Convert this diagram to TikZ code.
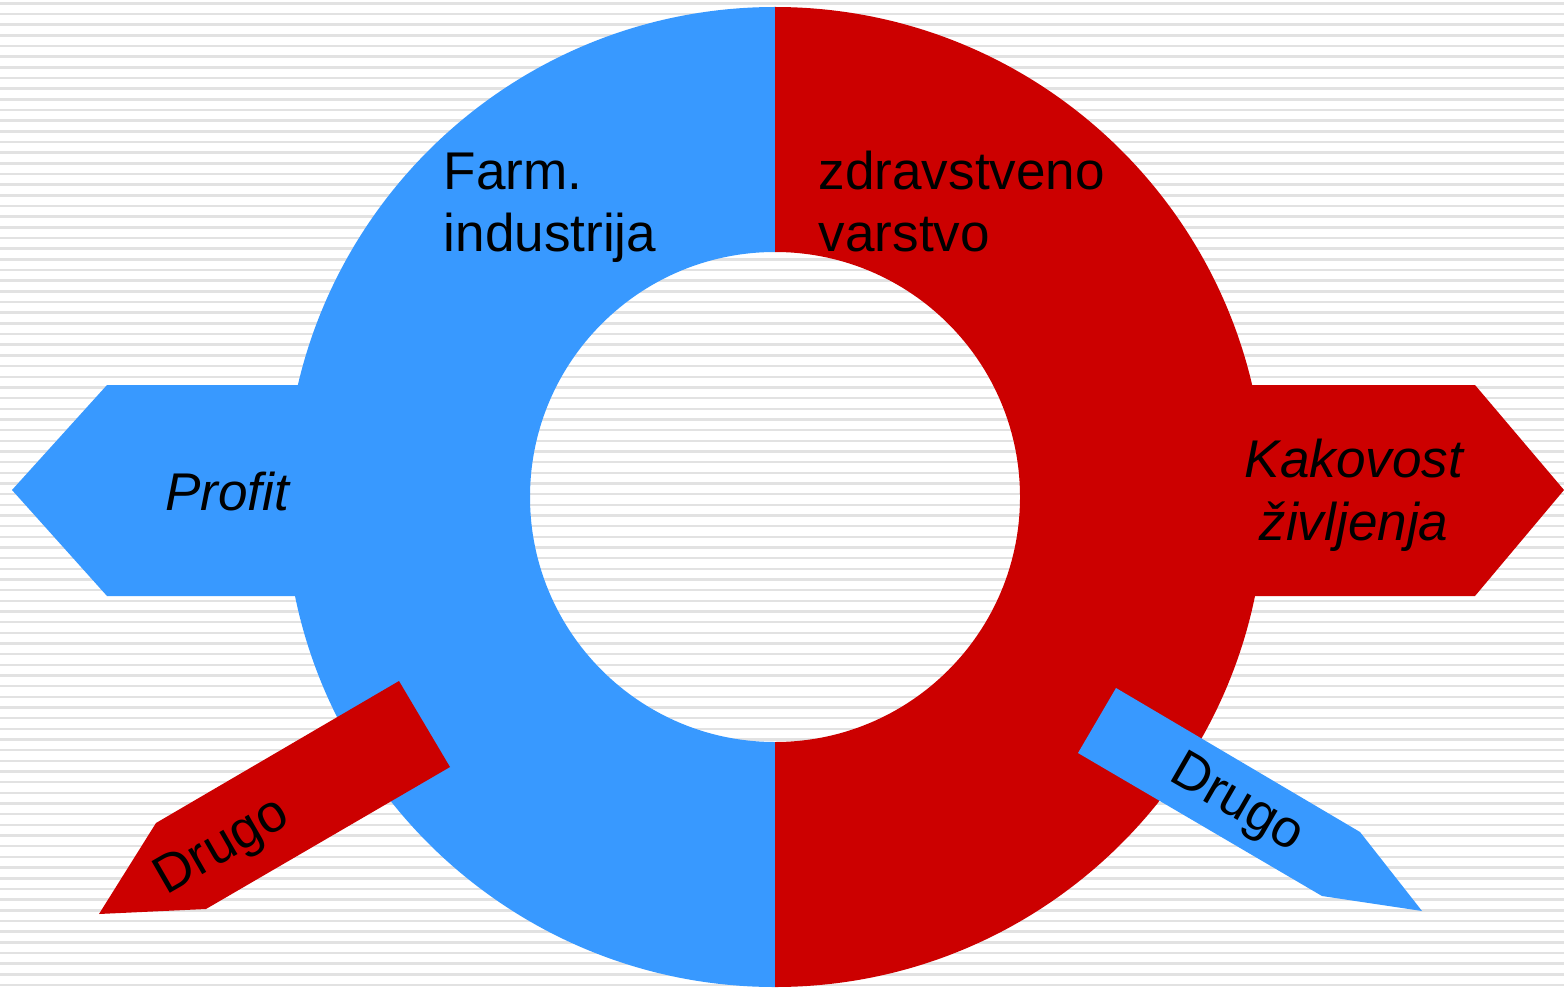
\documentclass[tikz,border=0pt]{standalone}
\usepackage{fontspec}
\setmainfont{Liberation Sans}
\usepackage{xcolor}
\definecolor{fb}{HTML}{3899FF}
\definecolor{fr}{HTML}{CC0000}
\definecolor{fs}{HTML}{E2E2E2}

\begin{document}
\begin{tikzpicture}[x=0.01cm,y=0.01cm,
  lbl/.style={font=\fontsize{15.1}{17.9}\selectfont,inner sep=0pt}]
  \useasboundingbox (0,0) rectangle (1564,987);
  \fill[white] (0,0) rectangle (1564,987);

  % Striped background
  \foreach \i in {0,...,92} {
    \draw[fs,line width=0.025cm] (0,983.7-10.67*\i) -- (1564,983.7-10.67*\i);
  }

  % Big side arrows (behind the ring)
  \fill[fb] (400,602) -- (107,602) -- (12,497) -- (107,391) -- (400,391) -- cycle;
  \fill[fr] (1150,602) -- (1475,602) -- (1564,497) -- (1475,391) -- (1150,391) -- cycle;

  % The ring, two halves
  \fill[fb] (775,980) arc[start angle=90,end angle=270,radius=490] -- (775,245)
    arc[start angle=270,end angle=90,radius=245] -- cycle;
  \fill[fr] (775,980) arc[start angle=90,end angle=-90,radius=490] -- (775,245)
    arc[start angle=-90,end angle=90,radius=245] -- cycle;

  % Small arrows crossing the ring
  \fill[fr] (399,306) -- (450,220) -- (206,78) -- (99,73) -- (156,164) -- cycle;
  \fill[fb] (1116,299) -- (1360,155) -- (1422,76) -- (1322,91) -- (1078,234) -- cycle;

  % Labels (base = last line)
  \node[lbl,anchor=base west,align=left] (farm) at (443,735) {Farm.\\industrija};
  \node[lbl,anchor=base west,align=left] (zdrav) at (818,735) {zdravstveno\\varstvo};
  \node[lbl,font=\fontsize{15.1}{17.9}\selectfont\itshape,anchor=base] (profit) at (227,477) {Profit};
  \node[lbl,font=\fontsize{15.1}{17.9}\selectfont\itshape,anchor=base,align=center] (kakov) at (1354,447) {Kakovost\\življenja};
  \node[lbl,rotate=30] (drugol) at (223,139) {Drugo};
  \node[lbl,rotate=-30] (drugor) at (1236,182) {Drugo};
\end{tikzpicture}
\end{document}
